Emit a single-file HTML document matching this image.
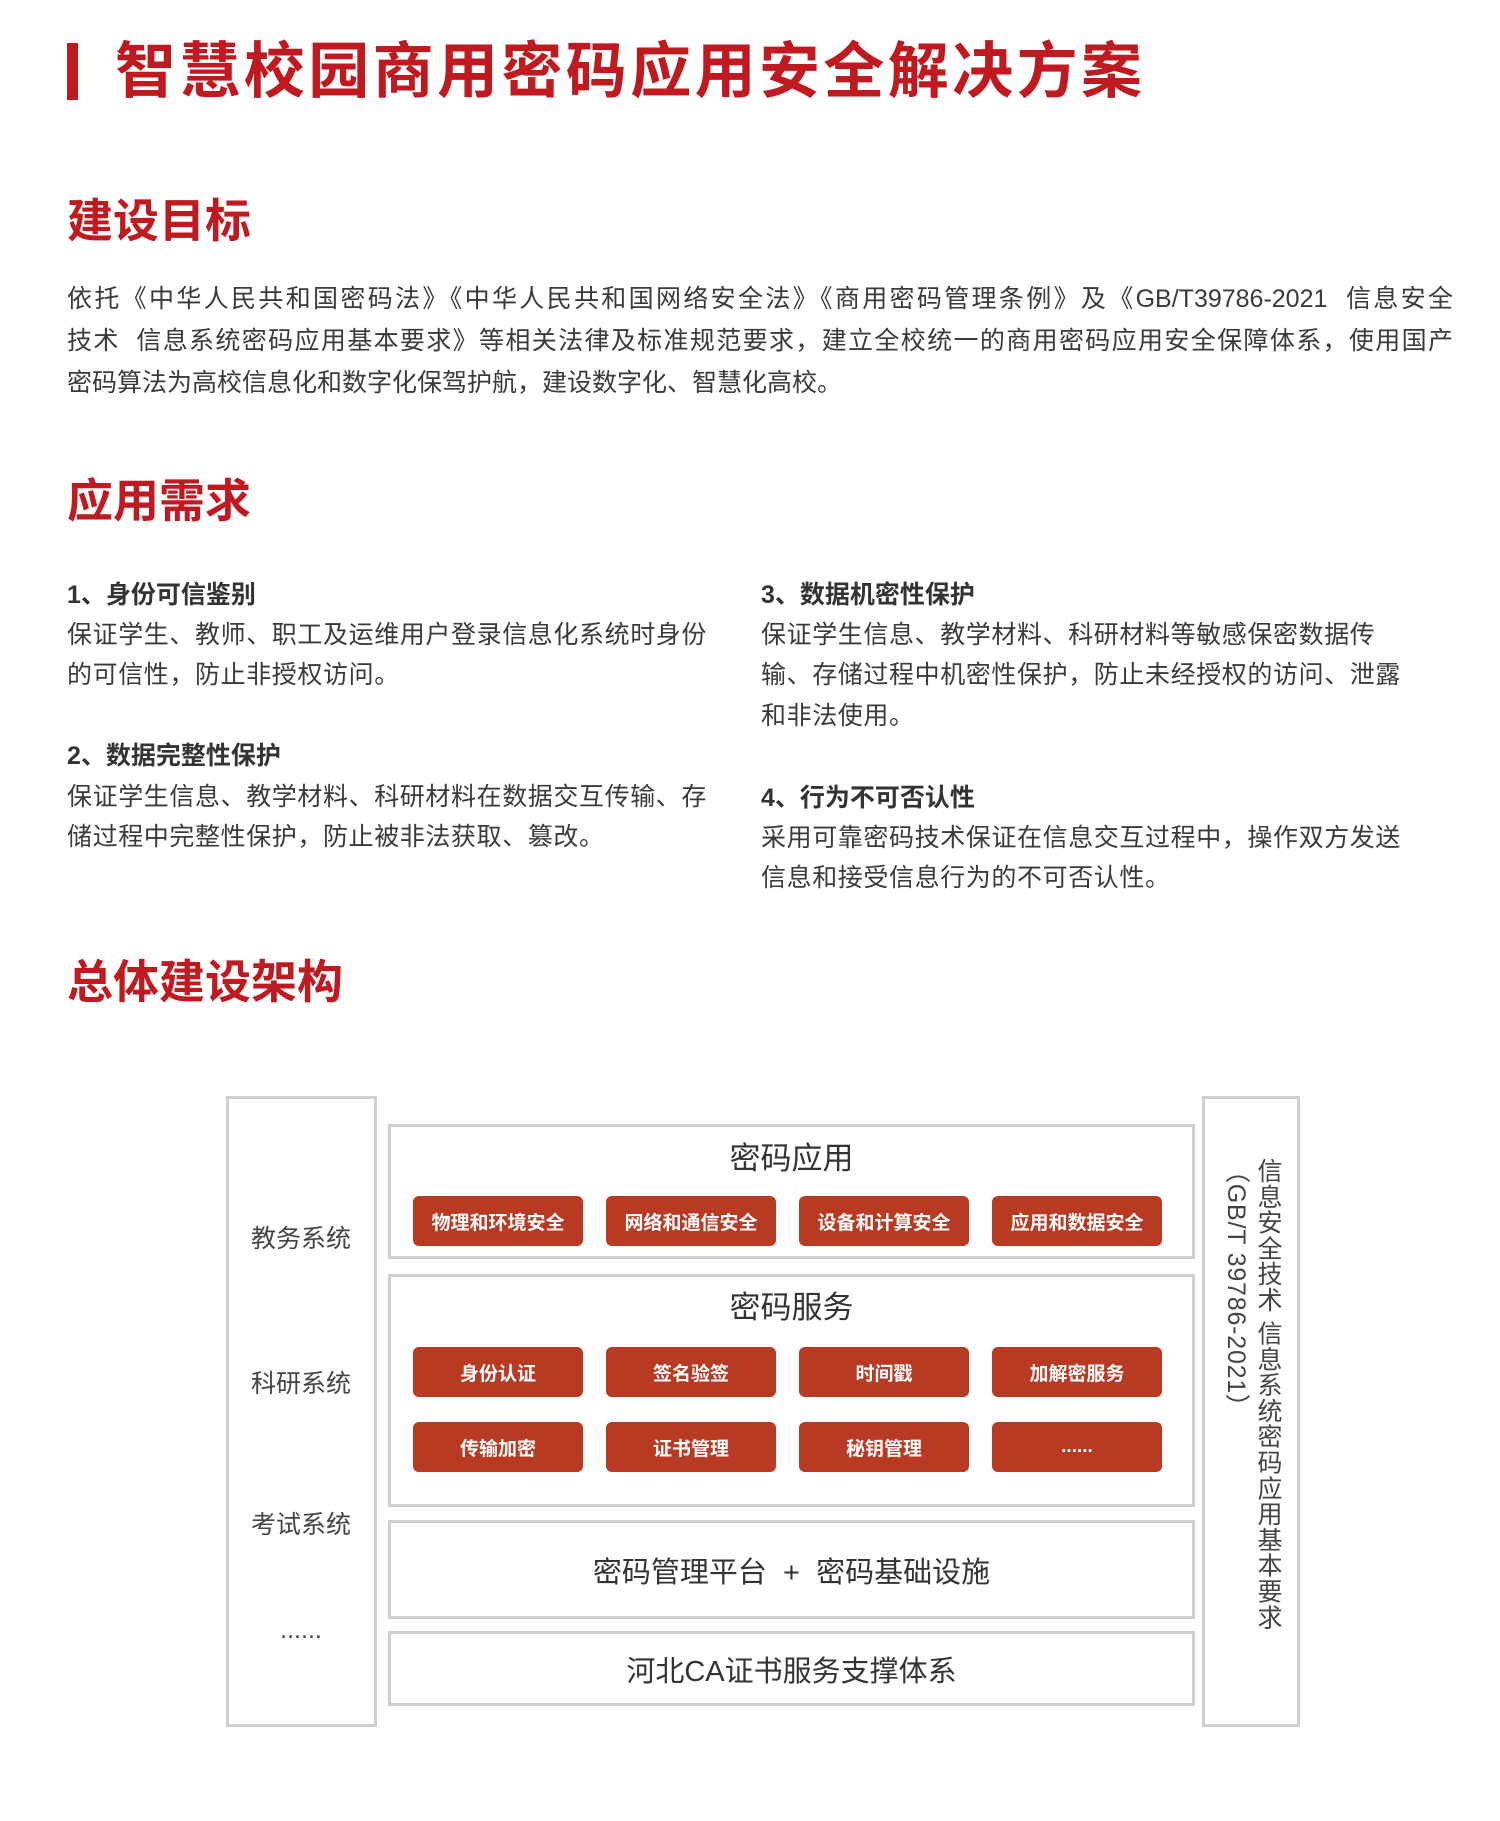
<!DOCTYPE html>
<html><head><meta charset="utf-8"><style>
*{margin:0;padding:0;box-sizing:border-box}
body{width:1500px;height:1821px;background:#fff;position:relative;font-family:"Liberation Sans","Noto Sans CJK SC",sans-serif;color:#3a3a3a;overflow:hidden}
.a{position:absolute;white-space:nowrap}
.h{color:#c0191f;font-weight:bold;font-size:46px;line-height:1}
.p{font-size:25px;line-height:1;letter-spacing:0.6px}
.j{text-align:justify;text-align-last:justify;width:1386px;left:67px;letter-spacing:0}
.sh{font-size:25px;font-weight:bold;color:#333;line-height:1}
.box{position:absolute;border:3px solid #cfcfcf}
.btn{position:absolute;width:170px;height:50px;background:#b83a22;border-radius:6px;color:#fff;font-weight:bold;font-size:19px;display:flex;align-items:center;justify-content:center}
.t{position:absolute;font-size:31px;color:#333;text-align:center;line-height:1}
.l{position:absolute;left:226px;width:150px;text-align:center;font-size:25px;color:#444;line-height:1}
</style></head><body>
<div class="a" style="left:67px;top:43px;width:11px;height:57px;background:#c0191f"></div>
<div class="a" style="left:115px;top:41px;font-size:61px;font-weight:bold;color:#c0191f;line-height:1;letter-spacing:3.4px">智慧校园商用密码应用安全解决方案</div>

<div class="a h" style="left:67px;top:198px">建设目标</div>
<div class="a p j" style="top:287px">依托《中华人民共和国密码法》《中华人民共和国网络安全法》《商用密码管理条例》及《GB/T39786-2021&nbsp;&nbsp;信息安全</div>
<div class="a p j" style="top:329px">技术&nbsp;&nbsp;信息系统密码应用基本要求》等相关法律及标准规范要求，建立全校统一的商用密码应用安全保障体系，使用国产</div>
<div class="a p" style="left:67px;top:371px;letter-spacing:0">密码算法为高校信息化和数字化保驾护航，建设数字化、智慧化高校。</div>

<div class="a h" style="left:67px;top:478px">应用需求</div>
<div class="a sh" style="left:67px;top:583px">1、身份可信鉴别</div>
<div class="a p" style="left:67px;top:623px">保证学生、教师、职工及运维用户登录信息化系统时身份</div>
<div class="a p" style="left:67px;top:663px">的可信性，防止非授权访问。</div>
<div class="a sh" style="left:67px;top:744px">2、数据完整性保护</div>
<div class="a p" style="left:67px;top:785px">保证学生信息、教学材料、科研材料在数据交互传输、存</div>
<div class="a p" style="left:67px;top:825px">储过程中完整性保护，防止被非法获取、篡改。</div>
<div class="a sh" style="left:761px;top:583px">3、数据机密性保护</div>
<div class="a p" style="left:761px;top:623px">保证学生信息、教学材料、科研材料等敏感保密数据传</div>
<div class="a p" style="left:761px;top:663px">输、存储过程中机密性保护，防止未经授权的访问、泄露</div>
<div class="a p" style="left:761px;top:704px">和非法使用。</div>
<div class="a sh" style="left:761px;top:786px">4、行为不可否认性</div>
<div class="a p" style="left:761px;top:826px">采用可靠密码技术保证在信息交互过程中，操作双方发送</div>
<div class="a p" style="left:761px;top:866px">信息和接受信息行为的不可否认性。</div>

<div class="a h" style="left:67px;top:959px">总体建设架构</div>

<div class="box" style="left:226px;top:1096px;width:151px;height:631px"></div>
<div class="box" style="left:1202px;top:1096px;width:98px;height:631px"></div>
<div class="box" style="left:388px;top:1124px;width:807px;height:135px"></div>
<div class="box" style="left:388px;top:1274px;width:807px;height:233px"></div>
<div class="box" style="left:388px;top:1520px;width:807px;height:99px"></div>
<div class="box" style="left:388px;top:1631px;width:807px;height:75px"></div>

<div class="l" style="top:1227px">教务系统</div>
<div class="l" style="top:1372px">科研系统</div>
<div class="l" style="top:1513px">考试系统</div>
<div class="l" style="top:1618px">......</div>

<div class="t" style="left:388px;width:807px;top:1143px">密码应用</div>
<div class="t" style="left:388px;width:807px;top:1292px">密码服务</div>
<div class="t" style="left:388px;width:807px;top:1559px;font-size:29px">密码管理平台 &nbsp;+ &nbsp;密码基础设施</div>
<div class="t" style="left:388px;width:807px;top:1658px;font-size:29px">河北CA证书服务支撑体系</div>

<div class="btn" style="left:413px;top:1196px">物理和环境安全</div>
<div class="btn" style="left:606px;top:1196px">网络和通信安全</div>
<div class="btn" style="left:799px;top:1196px">设备和计算安全</div>
<div class="btn" style="left:992px;top:1196px">应用和数据安全</div>
<div class="btn" style="left:413px;top:1347px">身份认证</div>
<div class="btn" style="left:606px;top:1347px">签名验签</div>
<div class="btn" style="left:799px;top:1347px">时间戳</div>
<div class="btn" style="left:992px;top:1347px">加解密服务</div>
<div class="btn" style="left:413px;top:1422px">传输加密</div>
<div class="btn" style="left:606px;top:1422px">证书管理</div>
<div class="btn" style="left:799px;top:1422px">秘钥管理</div>
<div class="btn" style="left:992px;top:1422px">......</div>

<div class="a" style="left:1220px;top:1158px;writing-mode:vertical-rl;font-size:25px;line-height:32px;color:#444;height:490px;letter-spacing:0.8px">信息安全技术 信息系统密码应用基本要求<br>（GB/T 39786-2021）</div>
</body></html>
